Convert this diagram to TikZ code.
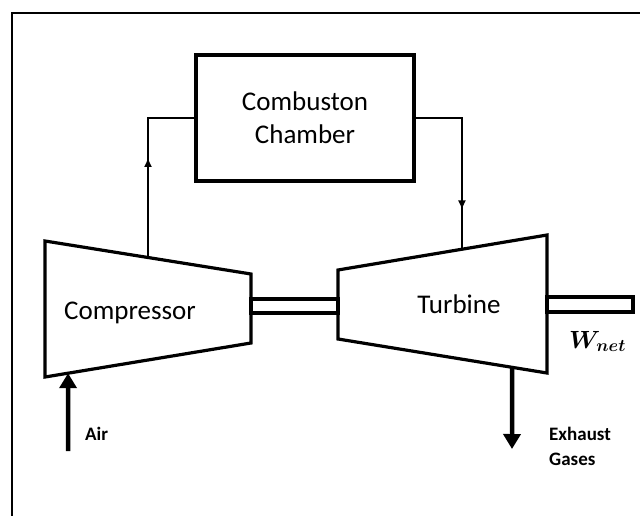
\documentclass[tikz,border=0pt]{standalone}
\usepackage{amsmath,bm}
\usepackage{fontspec}
\setmainfont{Carlito}
\usetikzlibrary{arrows.meta,decorations.markings,calc}
\begin{document}
\begin{tikzpicture}[x=1pt,y=-1pt,line join=miter]
\tikzset{
  part/.style={draw,line width=3.2pt},
  flow/.style={draw,line width=2.6pt},
  lbl/.style={font=\fontsize{27}{33}\selectfont,inner sep=0pt},
  small/.style={font=\bfseries\fontsize{19}{25}\selectfont,inner sep=0pt,align=left},
  bigarrow/.style={line width=4.5pt,-{Triangle[width=17pt,length=15pt]}},
  midarrow/.style={postaction={decorate},decoration={markings,
      mark=at position #1 with {\arrow{Triangle[width=7pt,length=8pt]}}}},
}
\useasboundingbox (0,0) rectangle (640,516);
% outer frame (only left and top edges fall inside the picture)
\draw[line width=2.4pt] (12,518) -- (12,13) -- (642,13);

% combustion chamber
\node[part,lbl,minimum width=218pt,minimum height=126pt,align=center] (cc) at (305,118) {Combuston\\Chamber};

% compressor
\coordinate (c1) at (45,241);
\coordinate (c2) at (251,274);
\coordinate (c3) at (251,343);
\coordinate (c4) at (45,377);
\draw[part] (c1) -- (c2) -- (c3) -- (c4) -- cycle;
\node[lbl,anchor=base] (comp) at (130,319) {Compressor};

% turbine
\coordinate (t1) at (338,270);
\coordinate (t2) at (547,235);
\coordinate (t3) at (547,373);
\coordinate (t4) at (338,339);
\draw[part] (t1) -- (t2) -- (t3) -- (t4) -- cycle;
\node[lbl,anchor=base] (turb) at (459,313) {Turbine};

% shafts
\draw[part] (251,299) rectangle (338,313);
\draw[part] (547,297) rectangle (633,312);

% flow connectors
\coordinate (cout) at ($(c1)!0.5!(c2)$);
\coordinate (tin) at ($(t1)!0.593!(t2)$);
\draw[flow,midarrow=0.53] (cout) |- (cc.west);
\draw[flow,midarrow=0.77] (cc.east) -| (tin);

% air inlet
\coordinate (airsrc) at (68,451);
\coordinate (cin) at ($(c4)!0.112!(c3)$);
\draw[bigarrow] (airsrc) -- (cin);
\node[small,anchor=base west] (air) at (85,440) {Air};

% exhaust
\coordinate (tout) at ($(t4)!0.833!(t3)$);
\coordinate (exh) at (512,449);
\draw[bigarrow] (tout) -- (exh);
\node[small,anchor=north west] (exl) at (549,427) {Exhaust\\Gases};

% net work
\node[inner sep=0pt,anchor=base west,font=\fontsize{25}{30}\selectfont] (wnet) at (569,348) {$\bm{W_{net}}$};
\end{tikzpicture}
\end{document}
